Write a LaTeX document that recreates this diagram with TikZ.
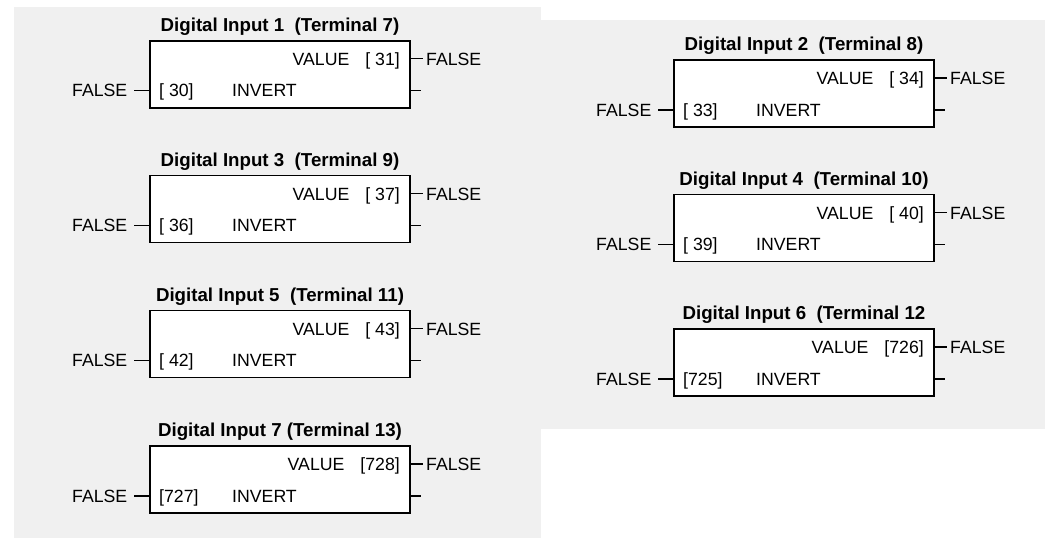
\documentclass[tikz,border=0pt]{standalone}
\usepackage{fontspec}
\setmainfont{Liberation Sans}
\usetikzlibrary{calc}
\definecolor{panelgray}{RGB}{240,240,240}
\tikzset{
  boxst/.style={draw=black, line width=1.8pt, fill=white, minimum width=260pt, minimum height=67pt, inner sep=0pt, outer sep=0pt},
  titlest/.style={font=\fontsize{18.7pt}{20pt}\selectfont\bfseries, inner sep=0pt},
  txt/.style={font=\fontsize{17.7pt}{20pt}\selectfont, inner sep=0pt},
  stub/.style={draw=black, line width=1.2pt},
}
\newcommand{\dblock}[6]{%
  \node[boxst, anchor=north west] (#1) at (#2,#3) {};
  \node[titlest, anchor=base] (#1t) at ($(#1.north)+(0,-9.5)$) {#4};
  \node[txt, anchor=base west] (#1in) at ($(#1.north west)+(9,56)$) {#5};
  \node[txt, anchor=base west] (#1inv) at ($(#1.north west)+(82,56)$) {INVERT};
  \node[txt, anchor=base east] (#1val) at ($(#1.north east)+(-10,24.5)$) {VALUE\hspace{16pt}#6};
  \node[txt, anchor=base west] (#1out) at ($(#1.north east)+(16,24.5)$) {FALSE};
  \node[txt, anchor=base east] (#1inl) at ($(#1.north west)+(-22.5,56)$) {FALSE};
  \coordinate (#1ia) at ($(#1.north west)+(0,50)$);
  \coordinate (#1ib) at ($(#1.north west)+(-16,50)$);
  \coordinate (#1oa) at ($(#1.north east)+(0,18)$);
  \coordinate (#1ob) at ($(#1.north east)+(13,18)$);
  \coordinate (#1pa) at ($(#1.north east)+(0,50)$);
  \coordinate (#1pb) at ($(#1.north east)+(11,50)$);
  \draw[stub] (#1ib) -- (#1ia);
  \draw[stub] (#1oa) -- (#1ob);
  \draw[stub] (#1pa) -- (#1pb);
}
\begin{document}
\begin{tikzpicture}[x=1pt,y=-1pt]
\useasboundingbox (0,0) rectangle (1045,538);
\fill[panelgray] (14,7) rectangle (541,538);
\fill[panelgray] (541,20) rectangle (1045,429);
\dblock{b1}{150}{40.7}{Digital Input 1\ \ (Terminal 7)}{[ 30]}{[ 31]}
\dblock{b3}{150}{175.5}{Digital Input 3\ \ (Terminal 9)}{[ 36]}{[ 37]}
\dblock{b5}{150}{310.5}{Digital Input 5\ \ (Terminal 11)}{[ 42]}{[ 43]}
\dblock{b7}{150}{446}{Digital Input 7 (Terminal 13)}{[727]}{[728]}
\dblock{b2}{674}{60}{Digital Input 2\ \ (Terminal 8)}{[ 33]}{[ 34]}
\dblock{b4}{674}{194.5}{Digital Input 4\ \ (Terminal 10)}{[ 39]}{[ 40]}
\dblock{b6}{674}{329}{Digital Input 6\ \ (Terminal 12}{[725]}{[726]}
\end{tikzpicture}
\end{document}
